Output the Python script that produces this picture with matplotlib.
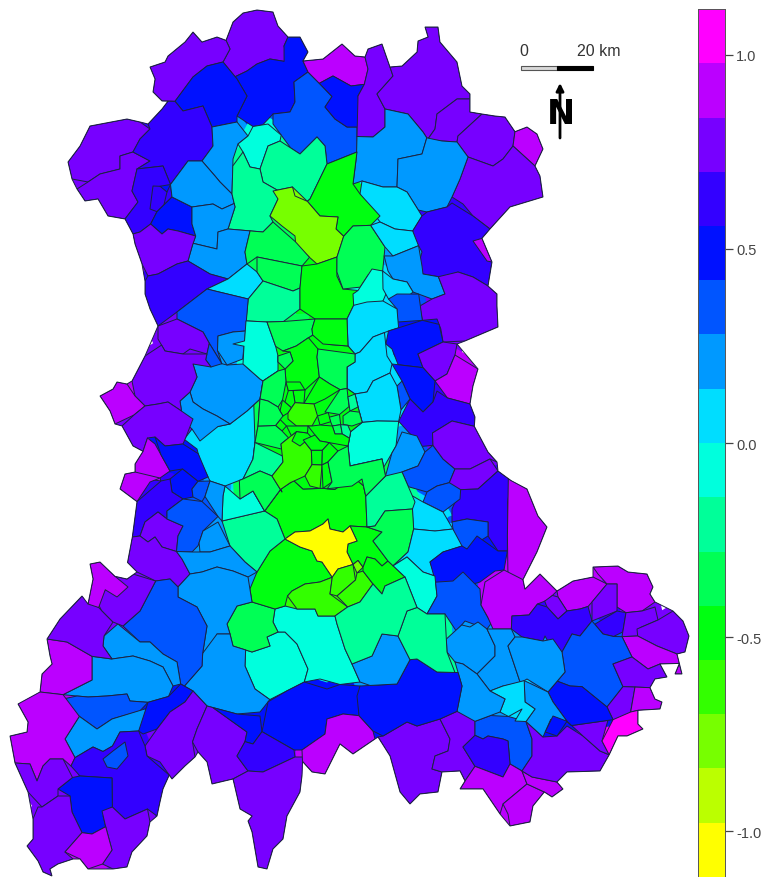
import numpy as np
import matplotlib
matplotlib.use("Agg")
import matplotlib.pyplot as plt
from matplotlib.collections import PolyCollection
from matplotlib.colors import ListedColormap, BoundaryNorm

plt.rcParams['font.family'] = ['Liberation Sans', 'DejaVu Sans']

# classes de la legende
levels = [-1.118, -0.978, -0.838, -0.699, -0.559, -0.419, -0.28, -0.14, 0.0,
          0.14, 0.28, 0.419, 0.559, 0.699, 0.838, 0.978, 1.118]
colours = ['#FFFF00', '#BBFF00', '#77FF00', '#33FF00', '#00FF11', '#00FF55', '#00FF99', '#00FFDD',
           '#00DDFF', '#0099FF', '#0055FF', '#0011FF', '#3300FF', '#7700FF', '#BB00FF', '#FF00FF']
tick_values = [-1.0, -0.5, 0.0, 0.5, 1.0]

# contour exterieur de la region
map_outline = [(257,11),(273,13),(278,27),(288,38),(300,38),(308,53),(303,62),(323,60),(342,45),(355,57),(365,58),(368,50),(382,45),(390,68),(402,67),(417,53),(418,42),(428,38),(425,28),(438,28),(440,43),(457,63),(462,87),(470,95),(470,113),(482,115),(495,117),(505,118),(515,133),(527,128),(537,135),(543,150),(535,167),(540,177),(543,198),(510,208),(490,230),(482,240),(492,263),(488,287),(497,295),(497,307),(498,328),(465,342),(457,345),(478,370),(473,387),(470,405),(475,418),(475,427),(488,453),(497,463),(498,472),(512,480),(527,490),(538,517),(547,528),(537,553),(523,580),(525,590),(540,575),(557,592),(573,582),(593,578),(593,568),(618,567),(628,573),(647,575),(653,588),(650,595),(655,603),(673,612),(683,622),(689,637),(685,653),(677,655),(682,675),(675,675),(677,665),(660,665),(667,678),(655,680),(650,688),(655,700),(662,703),(660,710),(638,712),(638,725),(643,730),(627,737),(618,737),(610,755),(608,757),(600,772),(567,773),(557,783),(563,790),(552,798),(545,793),(533,807),(530,823),(510,827),(500,815),(483,790),(460,790),(465,782),(460,772),(442,773),(438,793),(420,795),(410,805),(400,793),(390,757),(378,738),(375,740),(353,755),(340,745),(325,775),(312,773),(303,763),(302,777),(300,793),(287,817),(283,840),(273,850),(267,870),(258,868),(252,833),(248,822),(252,817),(240,810),(233,780),(212,785),(207,763),(198,753),(195,758),(185,767),(172,780),(168,777),(163,790),(160,803),(157,817),(150,823),(147,837),(132,853),(127,868),(113,870),(88,870),(80,860),(73,860),(58,865),(50,870),(52,877),(43,873),(38,862),(27,847),(33,840),(33,820),(28,793),(15,765),(15,763),(10,737),(27,733),(28,723),(18,705),(40,693),(42,675),(52,665),(50,657),(47,640),(60,620),(82,597),(88,605),(93,580),(90,565),(100,563),(115,577),(127,580),(137,573),(127,562),(132,538),(137,503),(120,490),(125,475),(135,472),(135,465),(143,452),(133,447),(122,427),(115,425),(110,412),(100,397),(113,390),(117,383),(127,385),(132,382),(145,357),(157,327),(150,310),(145,295),(145,282),(142,265),(135,245),(133,235),(125,220),(108,217),(98,200),(85,202),(77,190),(72,180),(68,163),(80,147),(90,127),(127,120),(140,123),(148,125),(162,110),(168,102),(162,102),(153,93),(155,80),(150,68),(165,63),(168,57),(185,43),(193,33),(202,43),(217,38),(226,42),(233,23),(243,14)]

# cantons : (valeur, contour)
north_regions = [
    (0.77, [(226,40),(233,23),(243,14),(257,11),(273,13),(278,27),(288,38),(284,47),(288,63),(270,60),(257,65),(247,72),(235,77),(223,63),(230,50)]),
    (0.77, [(150,68),(165,63),(168,57),(185,43),(193,33),(202,43),(217,38),(226,42),(230,50),(223,63),(207,67),(193,78),(175,102),(162,102),(153,93),(155,80)]),
    (0.49, [(237,77),(247,72),(257,65),(270,60),(284,63),(284,47),(288,38),(300,38),(308,53),(303,62),(308,73),(295,83),(295,103),(290,113),(273,115),(263,128),(253,127),(237,117),(247,97),(237,80)]),
    (0.49, [(175,102),(193,78),(207,67),(223,63),(237,80),(247,97),(237,117),(237,123),(212,128),(203,107),(183,112)]),
    (0.35, [(293,83),(308,73),(320,85),(332,97),(325,108),(335,120),(347,128),(357,128),(357,153),(327,165),(325,147),(317,138),(300,155),(290,150),(273,125),(273,115),(290,113),(295,103)]),
    (0.91, [(303,62),(323,60),(342,45),(355,57),(365,58),(368,70),(363,85),(352,87),(333,77),(320,83),(308,73)]),
    (0.49, [(318,85),(333,77),(350,87),(365,86),(358,97),(362,128),(347,128),(335,120),(325,108),(332,98)]),
    (0.77, [(365,58),(368,50),(382,45),(390,68),(393,77),(377,95),(385,110),(385,128),(373,138),(357,137),(358,97),(365,85),(368,70)]),
    (0.77, [(390,68),(402,67),(417,53),(418,42),(428,38),(425,28),(438,28),(440,43),(457,63),(462,87),(470,95),(468,100),(457,100),(437,115),(435,130),(428,138),(423,133),(408,115),(385,110),(377,95),(393,77)]),
    (0.77, [(437,115),(457,100),(468,100),(470,113),(482,115),(458,137),(457,143),(442,142),(428,138),(435,130)]),
    (0.77, [(458,137),(482,115),(495,117),(505,118),(515,133),(513,147),(503,160),(493,167),(468,157),(457,143)]),
    (0.91, [(515,132),(527,128),(537,135),(543,150),(535,167),(513,147)]),
    (0.77, [(468,157),(493,167),(503,160),(513,147),(535,167),(540,177),(543,198),(510,208),(490,230),(473,217),(463,205),(452,198),(460,180)]),
    (0.21, [(357,138),(373,138),(385,128),(385,110),(408,115),(423,133),(425,140),(422,155),(398,160),(397,188),(383,188),(362,182),(353,185),(357,157)]),
    (0.21, [(425,140),(442,142),(457,143),(468,160),(460,180),(452,198),(447,208),(427,213),(420,210),(407,193),(397,188),(398,160),(422,155)]),
    (0.07, [(362,182),(383,188),(397,188),(407,193),(422,217),(413,233),(395,230),(380,223),(360,195)]),
    (0.63, [(412,230),(422,217),(427,213),(447,208),(452,204),(473,217),(490,230),(482,240),(492,263),(488,287),(473,278),(458,273),(442,277),(423,275),(418,267),(422,253),(418,243)]),
    (0.91, [(473,242),(482,238),(492,263),(487,262)]),
    (0.77, [(68,163),(80,147),(90,127),(127,120),(140,123),(150,130),(140,140),(133,153),(120,157),(120,170),(100,175),(88,183),(72,180)]),
    (0.77, [(77,190),(88,183),(100,175),(120,170),(120,157),(133,153),(150,162),(137,170),(132,192),(138,203),(125,220),(108,217),(98,200),(85,202)]),
    (0.63, [(148,125),(162,110),(168,102),(175,103),(183,112),(203,107),(212,128),(213,147),(202,162),(188,162),(170,185),(163,167),(137,170),(150,162),(133,153),(140,140),(150,130)]),
    (0.63, [(137,170),(163,167),(170,185),(172,198),(157,213),(150,225),(140,233),(133,235),(125,220),(138,203),(132,192)]),
    (0.63, [(153,187),(162,185),(167,193),(165,207),(157,212),(150,210)]),
    (0.49, [(160,188),(172,187),(167,193)]),
    (0.49, [(152,225),(157,213),(165,207),(172,198),(192,208),(192,225),(195,237),(178,232),(168,230),(162,235)]),
    (0.21, [(212,128),(237,123),(248,137),(238,145),(233,160),(232,195),(220,183),(215,177),(202,162),(213,147)]),
    (-0.07, [(238,145),(248,137),(253,128),(268,125),(280,137),(280,142),(268,147),(260,170),(250,168),(243,153)]),
    (0.21, [(170,185),(188,162),(202,162),(215,177),(220,183),(232,195),(232,205),(222,210),(213,205),(192,208),(172,198)]),
    (-0.21, [(260,170),(268,147),(280,142),(300,155),(317,138),(325,147),(327,165),(310,200),(307,202),(293,188),(277,190),(263,183)]),
    (-0.21, [(243,153),(250,168),(260,170),(263,183),(277,190),(278,200),(270,217),(273,223),(263,233),(228,230),(235,208),(232,195),(235,167)]),
    (-0.49, [(327,165),(357,153),(353,185),(360,195),(380,217),(370,227),(353,227),(345,237),(337,230),(338,218),(320,217),(307,202),(310,200)]),
    (-0.77, [(273,192),(292,188),(295,197),(308,203),(320,217),(338,218),(335,230),(343,238),(337,258),(317,265),(297,245),(295,237),(282,227),(270,217),(278,200)]),
    (0.21, [(192,208),(213,205),(222,210),(232,205),(235,208),(228,230),(218,233),(217,250),(195,245),(197,237),(192,225)]),
    (0.21, [(190,257),(195,245),(217,250),(218,233),(228,230),(250,233),(245,253),(247,265),(228,280),(210,275),(188,262)]),
    (0.77, [(133,235),(140,233),(150,225),(162,235),(168,230),(178,232),(195,237),(192,247),(188,262),(177,265),(158,275),(148,277),(142,265),(135,245)]),
    (0.63, [(145,282),(148,277),(158,275),(177,265),(188,262),(210,275),(228,280),(207,290),(177,313),(160,327),(150,310),(145,295)]),
    (0.07, [(207,290),(228,280),(247,265),(257,273),(263,282),(250,300),(247,300),(215,292)]),
    (-0.35, [(245,253),(250,233),(263,233),(273,223),(293,243),(308,260),(302,267),(257,258),(247,265)]),
    (-0.35, [(257,258),(302,267),(300,287),(293,292),(263,282),(257,273)]),
    (-0.21, [(247,300),(250,300),(263,282),(293,292),(300,290),(300,310),(285,322),(267,323),(247,322)]),
    (-0.49, [(302,267),(317,265),(337,258),(337,277),(343,290),(358,293),(353,307),(347,320),(315,320),(300,310),(300,290),(302,280)]),
    (-0.35, [(337,258),(343,237),(353,227),(370,227),(385,248),(382,272),(370,277),(360,288),(343,290),(335,273)]),
    (-0.07, [(358,290),(372,270),(383,272),(388,290),(383,302),(363,308),(355,305),(353,295)]),
    (0.07, [(372,225),(380,223),(395,230),(413,233),(418,247),(393,257),(385,248)]),
    (0.21, [(385,257),(393,257),(418,247),(422,267),(423,275),(438,280),(445,295),(432,300),(413,293),(407,283),(393,280),(388,272)]),
    (0.07, [(383,272),(393,280),(407,283),(413,293),(405,300),(390,300),(383,290)]),
]

east_regions = [
    (0.77, [(438,280),(458,273),(473,278),(488,287),(497,295),(497,307),(498,328),(465,342),(443,343),(440,330),(437,320),(422,322),(420,307),(432,300),(445,295)]),
    (0.35, [(387,300),(397,295),(418,297),(422,322),(398,323),(397,310)]),
    (0.07, [(347,320),(353,307),(367,303),(383,302),(397,310),(398,327),(387,332),(373,338),(360,353),(355,355),(348,347)]),
    (0.49, [(385,345),(390,332),(423,320),(440,325),(443,343),(418,355),(423,368),(398,367),(392,350)]),
    (0.77, [(418,355),(443,343),(457,345),(455,357),(447,375),(435,380),(423,368)]),
    (0.91, [(455,355),(478,370),(473,387),(470,405),(447,398),(435,383),(447,375)]),
    (0.49, [(392,365),(423,370),(435,383),(433,403),(423,413),(410,400),(402,382)]),
    (0.63, [(400,423),(410,400),(423,413),(433,403),(437,392),(448,400),(470,405),(475,418),(475,427),(452,422),(433,433),(433,447),(423,447),(410,437)]),
    (0.35, [(397,387),(402,382),(410,400),(400,412)]),
    (0.07, [(355,363),(355,355),(360,353),(373,338),(385,335),(387,357),(392,365),(390,373),(373,382),(367,393),(355,395),(347,390),(347,368)]),
    (0.07, [(358,408),(355,395),(367,393),(373,382),(390,375),(397,387),(402,410),(398,422),(377,422),(363,425),(362,423),(360,413)]),
    (-0.07, [(350,433),(362,423),(377,422),(398,422),(395,447),(385,468),(382,460),(350,467),(348,447)]),
    (0.21, [(387,477),(390,453),(397,447),(402,433),(417,437),(425,453),(418,467),(402,472),(395,480)]),
    (0.35, [(402,472),(418,467),(425,453),(433,447),(443,460),(455,470),(450,483),(437,487),(427,493),(410,487)]),
    (0.77, [(432,435),(452,422),(473,428),(488,453),(497,463),(490,460),(470,470),(455,470),(443,460),(433,445)]),
    (0.77, [(455,470),(470,470),(490,460),(498,472),(478,490),(460,490),(448,487),(450,483)]),
    (0.63, [(462,492),(478,490),(498,472),(512,480),(507,503),(508,552),(498,552),(488,537),(488,523),(467,520),(452,523),(452,510)]),
    (0.35, [(427,493),(437,487),(448,485),(460,490),(460,500),(443,513),(423,503)]),
    (0.07, [(412,497),(423,503),(443,513),(453,530),(435,532),(415,530),(413,517)]),
    (0.35, [(452,523),(467,520),(488,523),(488,537),(467,550),(455,547)]),
    (-0.21, [(365,497),(385,477),(402,475),(415,503),(412,510),(385,512),(375,527),(367,528)]),
    (-0.35, [(375,527),(385,512),(412,510),(413,530),(408,553),(392,568),(388,562),(373,542),(382,533),(367,528)]),
    (0.07, [(413,530),(435,532),(453,530),(462,547),(443,553),(430,563),(435,577),(423,573),(407,558),(392,568),(408,553)]),
    (0.49, [(430,563),(443,553),(462,547),(467,550),(477,537),(498,552),(507,552),(503,570),(495,572),(480,583),(457,590),(437,583)]),
    (-0.07, [(392,568),(407,558),(423,573),(435,577),(437,597),(427,615),(417,610),(417,608),(405,578)]),
    (0.35, [(437,583),(453,582),(463,573),(480,590),(482,607),(490,625),(487,630),(465,622),(457,633),(445,615),(427,615),(437,597)]),
    (0.91, [(508,480),(527,490),(538,517),(547,528),(537,553),(523,580),(508,580),(507,537)]),
    (0.91, [(480,605),(485,583),(505,572),(523,582),(525,590),(540,575),(557,592),(547,600),(537,605),(528,617),(512,617),(510,630),(493,628),(488,618)]),
    (0.91, [(557,592),(573,582),(593,578),(607,585),(592,603),(588,607),(580,610),(567,612),(558,598)]),
    (0.77, [(545,603),(553,597),(558,598),(567,612),(558,620),(547,608)]),
    (0.63, [(512,617),(530,615),(538,605),(547,608),(558,620),(567,612),(580,610),(588,608),(592,620),(580,637),(572,635),(562,653),(547,640),(545,637),(543,642),(522,638),(512,630)]),
    (0.91, [(593,568),(618,567),(628,573),(647,575),(653,588),(650,595),(655,603),(642,612),(627,613),(617,608),(617,585),(607,585),(598,575)]),
    (0.77, [(592,603),(607,585),(617,585),(617,612),(592,623)]),
    (0.63, [(595,625),(617,612),(626,613),(623,633),(615,638),(603,635)]),
    (0.77, [(620,637),(625,615),(642,612),(655,608),(658,622),(640,628),(637,637)]),
    (0.77, [(637,630),(658,620),(673,612),(683,622),(689,637),(685,653),(677,655),(657,647),(638,637)]),
    (0.91, [(623,638),(638,637),(657,647),(677,655),(682,675),(675,675),(677,665),(660,665),(648,670),(632,658)]),
    (0.35, [(562,653),(572,635),(580,637),(592,623),(603,635),(612,637),(623,638),(632,658),(613,665),(623,687),(607,708),(583,688),(580,687),(570,687),(557,682),(565,673)]),
    (0.77, [(613,665),(632,658),(648,670),(660,665),(665,675),(667,678),(655,680),(650,690),(630,688),(623,688)]),
    (0.77, [(607,708),(623,688),(635,688),(630,713),(622,722),(613,720)]),
    (0.91, [(635,688),(650,688),(655,700),(662,703),(660,710),(638,710),(632,713)]),
    (1.05, [(602,742),(613,722),(630,713),(638,712),(638,725),(643,730),(627,737),(618,737),(610,755)]),
    (0.49, [(548,693),(557,682),(570,687),(583,688),(607,708),(613,720),(573,725),(567,722),(553,703)]),
    (0.21, [(447,640),(463,627),(470,628),(478,623),(487,630),(495,647),(495,657),(477,675),(463,665),(455,663),(447,653)]),
    (0.21, [(487,630),(512,630),(515,638),(508,647),(520,682),(503,687),(490,692),(477,675),(495,657),(495,647)]),
    (0.21, [(508,647),(515,638),(522,638),(543,642),(553,640),(562,653),(565,673),(548,693),(527,680),(520,682)]),
    (0.21, [(525,683),(548,693),(553,703),(567,722),(550,720),(543,738),(525,722),(535,710),(525,703)]),
    (0.07, [(490,692),(503,687),(525,683),(525,703),(535,710),(525,722),(515,722),(522,710),(507,717),(500,713),(505,700)]),
    (0.49, [(543,732),(553,717),(567,722),(557,737)]),
    (0.21, [(455,663),(463,665),(477,675),(490,692),(505,700),(500,713),(475,722),(457,712),(462,687)]),
    (0.49, [(357,697),(360,687),(397,685),(410,662),(417,660),(437,673),(460,673),(462,687),(457,712),(440,720),(417,727),(407,723),(383,737),(373,732),(360,717)]),
    (0.21, [(352,665),(372,657),(382,635),(398,637),(410,660),(397,685),(370,687),(360,683)]),
    (-0.21, [(398,637),(407,612),(417,608),(427,615),(445,615),(447,653),(455,672),(437,673),(417,660),(410,660)]),
    (-0.21, [(335,617),(348,608),(360,603),(373,585),(382,595),(385,587),(405,578),(417,608),(407,612),(398,637),(382,635),(372,657),(352,665),(345,650),(337,625)]),
]

south_regions = [
    (-0.07, [(245,653),(252,653),(270,647),(267,638),(278,633),(285,633),(297,645),(308,670),(305,683),(270,698),(255,690),(245,667)]),
    (-0.07, [(273,623),(275,610),(285,607),(297,610),(315,610),(318,617),(335,617),(337,625),(345,650),(352,665),(360,683),(340,686),(320,680),(305,683),(308,670),(297,645),(285,633),(278,633)]),
    (-0.35, [(227,625),(237,607),(252,603),(275,610),(273,623),(278,633),(267,638),(270,647),(252,653),(233,647),(230,635)]),
    (-0.49, [(265,512),(280,490),(283,487),(293,480),(303,490),(323,490),(335,492),(353,478),(362,487),(365,497),(367,528),(350,527),(343,533),(330,530),(328,520),(323,525),(310,532),(295,533),(285,540),(277,520)]),
    (-0.49, [(270,552),(285,540),(300,548),(312,552),(317,562),(322,563),(332,578),(320,583),(305,585),(292,592),(287,597),(285,607),(275,610),(252,603),(250,590),(257,573)]),
    (-0.49, [(350,527),(367,528),(382,533),(373,542),(388,562),(382,567),(375,560),(367,558),(363,568),(358,562),(353,565),(347,553),(348,545),(357,542)]),
    (-1.05, [(285,540),(295,533),(310,532),(323,525),(328,520),(330,530),(343,533),(350,527),(357,542),(348,545),(347,553),(353,565),(338,570),(332,577),(322,563),(317,562),(312,552),(300,548)]),
    (-0.63, [(288,597),(292,592),(305,585),(320,583),(332,578),(330,595),(347,608),(335,617),(318,617),(315,610),(297,610)]),
    (-0.77, [(353,565),(358,561),(363,569),(357,573)]),
    (-0.63, [(330,595),(333,580),(338,570),(353,567),(356,580),(347,587),(337,597)]),
    (-0.63, [(337,597),(355,582),(357,575),(363,572),(373,585),(360,603),(348,608)]),
    (-0.49, [(363,568),(367,558),(375,560),(382,567),(388,562),(405,578),(385,587),(382,595),(373,585),(363,572)]),
    (-0.21, [(222,522),(263,512),(277,520),(285,540),(270,552),(257,573),(245,563),(230,547)]),
    (-0.07, [(222,522),(223,497),(225,487),(240,500),(253,492),(265,512),(240,517)]),
    (0.07, [(183,440),(192,430),(197,432),(218,427),(230,425),(247,412),(260,400),(255,407),(255,443),(253,460),(243,480),(225,487),(210,482),(202,460),(197,450)]),
    (0.21, [(190,393),(197,378),(193,365),(207,362),(227,367),(243,365),(260,380),(263,382),(260,400),(247,412),(230,425),(217,417),(203,410),(193,403)]),
    (0.21, [(180,402),(190,393),(193,403),(203,410),(217,417),(230,425),(218,428),(200,442),(192,430),(183,422)]),
]

west_regions = [
    (0.35, [(177,313),(207,290),(215,292),(247,300),(245,332),(233,333),(218,337),(217,350),(222,363),(210,345),(203,333),(177,320)]),
    (0.77, [(157,327),(177,320),(203,333),(208,345),(207,355),(190,350),(183,355),(165,352),(158,340)]),
    (0.35, [(205,360),(210,343),(222,365),(212,368)]),
    (0.21, [(233,333),(245,332),(243,360),(227,365),(218,353),(218,337)]),
    (-0.07, [(233,345),(245,342),(247,322),(267,323),(275,347),(283,352),(278,357),(278,363),(285,370),(278,372),(263,382),(260,380),(243,365),(242,347)]),
    (0.77, [(132,382),(145,357),(160,347),(165,352),(183,355),(207,355),(205,360),(210,368),(193,365),(197,378),(190,393),(180,402),(182,412),(168,403),(158,405),(145,407),(135,397)]),
    (0.91, [(100,397),(113,390),(117,383),(127,385),(135,397),(145,407),(133,417),(115,425),(110,412)]),
    (0.77, [(122,427),(135,415),(145,407),(158,405),(168,403),(182,412),(193,420),(185,437),(183,445),(165,447),(155,438),(148,440),(143,453),(133,447)]),
    (0.91, [(135,465),(143,452),(147,438),(155,445),(170,472),(160,478),(162,482),(148,480),(135,472)]),
    (0.91, [(120,490),(125,475),(135,475),(160,480),(150,483),(137,503),(130,500)]),
    (0.49, [(155,438),(165,447),(183,445),(197,455),(208,478),(198,482),(183,470),(170,472),(162,455)]),
    (0.49, [(170,480),(182,470),(198,482),(192,490),(193,498),(185,500),(172,493)]),
    (0.35, [(192,490),(198,483),(210,482),(205,497),(202,503),(193,498)]),
    (0.21, [(207,492),(210,482),(225,487),(223,497),(222,522),(218,517),(205,498)]),
    (0.63, [(137,502),(160,482),(170,480),(172,493),(182,500),(167,512),(167,520),(158,513),(145,523),(140,537),(133,538)]),
    (0.77, [(140,537),(145,523),(158,513),(167,520),(183,527),(178,537),(175,552),(162,548),(155,538),(148,543)]),
    (0.35, [(167,512),(182,500),(202,502),(218,518),(203,532),(197,547),(192,553),(178,553),(175,552),(178,537),(183,527),(167,520)]),
    (0.21, [(197,543),(203,532),(218,523),(230,547),(210,553),(200,553)]),
    (0.77, [(132,538),(140,537),(148,543),(155,538),(162,548),(175,552),(178,553),(182,560),(190,575),(178,588),(170,580),(155,582),(137,573),(128,565)]),
    (0.21, [(182,560),(178,553),(192,553),(200,553),(210,553),(230,547),(245,563),(257,573),(248,578),(233,572),(217,568),(202,573),(190,575)]),
    (0.21, [(190,575),(202,573),(217,568),(233,572),(248,578),(252,603),(237,607),(227,625),(230,635),(217,635),(210,653),(203,655),(207,627),(197,608),(178,598),(178,588)]),
    (0.21, [(203,655),(217,635),(230,635),(233,647),(245,653),(245,667),(255,690),(268,700),(260,713),(237,715),(207,707),(193,692),(185,687),(202,667)]),
    (0.35, [(123,627),(140,612),(157,582),(170,580),(178,588),(178,598),(197,608),(207,627),(202,653),(202,667),(185,685),(180,685),(177,663),(163,655),(150,643),(140,643)]),
    (0.21, [(103,647),(105,637),(117,627),(140,643),(150,643),(163,655),(177,663),(180,685),(173,687),(163,668),(150,662),(133,657),(112,660)]),
    (0.21, [(63,697),(92,680),(90,657),(112,660),(133,657),(150,662),(163,668),(173,687),(167,698),(148,702),(130,702),(127,695),(107,697),(88,698),(77,697)]),
    (0.35, [(65,700),(77,697),(88,698),(107,697),(127,695),(130,702),(148,703),(140,713),(112,720),(97,730),(80,717),(70,713)]),
    (0.21, [(65,740),(80,718),(97,730),(112,720),(147,710),(147,723),(138,732),(120,733),(112,747),(103,752),(93,748),(75,758)]),
    (0.91, [(47,640),(67,643),(93,658),(92,682),(63,695),(53,695),(40,693),(42,675),(52,665),(50,657)]),
    (0.91, [(18,705),(30,695),(40,693),(63,695),(78,717),(75,727),(65,740),(75,758),(72,767),(63,760),(50,760),(43,767),(37,782),(30,765),(15,763),(10,737),(27,733),(28,723)]),
    (0.77, [(47,640),(60,620),(82,597),(97,610),(113,623),(103,637),(103,647),(112,660),(93,657),(67,643)]),
    (0.77, [(97,603),(100,598),(115,578),(127,580),(135,577),(155,582),(140,612),(123,627),(113,623),(100,613)]),
    (0.91, [(88,605),(93,580),(90,565),(100,563),(115,577),(128,588),(117,598),(107,592),(97,608)]),
    (0.49, [(140,732),(148,705),(170,697),(182,685),(193,692),(185,703),(170,713),(157,730),(143,735)]),
    (0.77, [(145,747),(157,730),(170,713),(185,703),(193,692),(207,707),(197,730),(193,743),(195,758),(185,767),(172,780),(160,763),(147,757)]),
    (0.77, [(192,743),(197,730),(207,707),(213,708),(233,723),(247,733),(245,743),(237,757),(248,773),(233,780),(212,785),(207,763),(198,753)]),
    (0.49, [(213,708),(237,715),(260,717),(262,733),(253,745),(245,742),(247,733),(233,723)]),
    (0.49, [(262,732),(267,702),(287,692),(303,683),(327,690),(340,685),(360,687),(360,716),(343,715),(327,720),(325,735),(302,750),(295,752)]),
    (0.63, [(237,757),(245,743),(253,745),(262,733),(293,750),(295,758),(263,773),(248,770)]),
    (0.77, [(233,780),(248,773),(263,773),(295,758),(308,758),(302,777),(300,793),(287,817),(283,840),(273,850),(267,870),(258,868),(252,833),(248,822),(252,817),(240,810)]),
    (0.91, [(302,752),(325,735),(327,720),(343,715),(357,717),(373,732),(375,740),(353,755),(340,745),(325,775),(312,773),(302,762)]),
    (0.63, [(75,760),(93,748),(103,753),(113,747),(120,733),(138,732),(145,747),(147,757),(168,777),(163,790),(160,803),(157,817),(147,810),(125,820),(113,808),(112,780),(93,777),(80,777),(70,767)]),
    (0.35, [(103,760),(113,752),(125,743),(128,757),(117,770),(107,768)]),
    (0.49, [(58,790),(72,780),(80,777),(112,778),(113,793),(112,808),(103,817),(105,827),(92,835),(82,833),(72,813),(70,797)]),
    (0.77, [(15,765),(30,765),(37,782),(43,767),(50,760),(63,760),(73,777),(58,790),(58,797),(42,808),(28,793)]),
    (0.77, [(42,808),(58,797),(70,797),(72,813),(82,833),(65,853),(73,860),(58,865),(50,870),(52,877),(43,873),(38,862),(27,847),(33,840),(33,820),(38,808)]),
    (0.77, [(102,812),(112,808),(125,820),(148,810),(150,823),(147,837),(132,853),(127,868),(113,870),(102,865),(112,850),(107,828)]),
    (0.91, [(65,853),(82,835),(92,835),(105,828),(112,843),(112,852),(103,865),(88,870),(80,860)]),
    (0.77, [(378,738),(383,737),(407,723),(417,727),(440,720),(450,740),(448,752),(435,757),(432,770),(442,773),(438,793),(420,795),(410,805),(400,793),(390,757)]),
    (0.77, [(440,720),(457,713),(472,717),(475,722),(475,737),(463,748),(475,767),(465,782),(460,772),(442,773),(432,770),(435,757),(448,752),(450,740)]),
    (0.35, [(475,723),(490,715),(510,718),(527,723),(532,740),(532,757),(522,772),(510,765),(508,742),(503,740),(488,737),(483,740),(475,737)]),
    (0.63, [(463,748),(475,735),(483,740),(488,737),(503,740),(508,742),(510,765),(503,778),(487,772),(475,767)]),
    (0.91, [(460,790),(465,782),(475,768),(503,778),(510,765),(522,772),(527,785),(503,805),(500,815),(483,790)]),
    (0.91, [(503,805),(527,785),(543,793),(533,807),(530,823),(510,827),(508,815)]),
    (0.91, [(522,772),(532,778),(557,783),(563,790),(552,798),(545,793),(527,785)]),
    (0.77, [(527,723),(543,738),(557,737),(567,727),(583,737),(600,752),(608,757),(600,772),(567,773),(557,783),(532,778),(522,772),(532,757),(532,740)]),
    (0.77, [(567,723),(573,725),(608,722),(602,742),(610,755),(600,752),(583,737)]),
]

centre_regions = [
    (-0.49, [(277,348),(293,348),(303,340),(312,338),(330,347),(348,347),(355,355),(347,368),(347,390),(355,395),(358,408),(362,423),(350,433),(348,447),(350,467),(382,460),(385,468),(385,477),(365,497),(362,487),(353,478),(335,492),(323,490),(303,490),(293,480),(283,487),(280,490),(265,512),(253,492),(253,460),(255,443),(258,427),(260,400),(263,382),(278,372),(278,357)]),
    (-0.35, [(282,323),(315,320),(312,330),(313,335),(308,338),(297,348),(283,352),(275,347),(267,323)]),
    (-0.49, [(312,330),(315,320),(347,320),(348,347),(323,345),(313,335)]),
    (-0.49, [(283,352),(297,348),(308,338),(318,350),(317,358),(320,378),(305,390),(288,390),(285,383),(285,370),(293,362),(290,353)]),
    (-0.35, [(278,357),(290,353),(293,362),(285,370),(278,363)]),
    (-0.35, [(318,350),(355,355),(355,363),(347,368),(347,388),(340,390),(330,385),(320,378),(317,358)]),
    (-0.35, [(260,400),(263,382),(278,372),(285,370),(285,383),(282,400),(278,408),(268,402)]),
    (-0.49, [(305,403),(318,378),(330,385),(340,390),(325,400),(315,405)]),
    (-0.49, [(288,383),(300,383),(305,390),(290,392)]),
    (-0.49, [(293,393),(305,393),(303,403),(295,403)]),
    (-0.49, [(287,393),(293,393),(295,403),(290,408),(285,403)]),
    (-0.49, [(280,412),(283,402),(289,407),(288,415),(283,417)]),
    (-0.63, [(288,413),(295,405),(313,405),(317,417),(312,427),(295,427),(288,420)]),
    (-0.35, [(325,413),(340,392),(347,390),(347,408),(340,415)]),
    (-0.21, [(347,398),(355,395),(358,408),(350,412)]),
    (-0.35, [(343,417),(350,412),(360,413),(362,423),(352,427),(343,423)]),
    (-0.35, [(330,418),(339,416),(340,425),(332,427)]),
    (-0.49, [(318,417),(328,415),(330,423),(320,426)]),
    (-0.35, [(333,427),(340,425),(342,435),(335,435)]),
    (-0.21, [(342,427),(348,425),(352,432),(348,438),(343,435)]),
    (-0.49, [(276,425),(282,422),(286,427),(282,432)]),
    (-0.35, [(258,427),(275,428),(282,432),(287,437),(280,445),(282,450),(255,443)]),
    (-0.35, [(260,400),(268,402),(278,408),(280,412),(283,417),(276,425),(275,428),(258,427)]),
    (-0.21, [(253,460),(255,445),(282,457),(283,463),(272,477),(260,472),(243,480)]),
    (-0.35, [(240,483),(243,480),(260,472),(272,477),(282,493),(280,490),(265,512),(253,492),(240,500)]),
    (-0.63, [(272,477),(283,463),(282,445),(295,433),(312,452),(312,465),(305,477),(290,483),(282,492)]),
    (-0.49, [(295,433),(298,432),(308,433),(312,440),(300,447),(292,442)]),
    (-0.49, [(287,427),(298,427),(308,428),(307,435),(298,432),(290,435)]),
    (-0.49, [(308,427),(312,427),(320,426),(332,427),(335,435),(342,435),(348,440),(348,447),(330,443),(320,442),(315,435)]),
    (-0.49, [(302,442),(315,437),(320,442),(330,443),(323,450),(310,450)]),
    (-0.49, [(312,452),(322,452),(322,465),(312,465)]),
    (-0.63, [(305,477),(312,467),(322,467),(320,487),(310,487)]),
    (-0.49, [(322,452),(328,445),(338,452),(328,463),(322,465)]),
    (-0.49, [(322,467),(328,463),(332,483),(323,488)]),
    (-0.35, [(328,463),(338,452),(348,447),(350,467),(382,460),(385,477),(368,497),(362,480),(352,487),(327,492),(332,483)]),
]

scale_labels = ['0', '20 km']


def snap_vertices(polys, radius=3.5, edge_radius=2.5):
    # colle les sommets voisins pour que les cantons se touchent
    pts = np.concatenate(polys)
    ids = -np.ones(len(pts), dtype=int)
    uniq = []
    for i, p in enumerate(pts):
        if ids[i] < 0:
            near = (ids < 0) & (np.hypot(*(pts - p).T) < radius)
            ids[near] = len(uniq)
            uniq.append(pts[near].mean(axis=0))
    uniq = np.array(uniq)
    # aretes en indices de sommets uniques
    sizes = np.cumsum([0] + [len(p) for p in polys])
    id_polys = [ids[sizes[k]:sizes[k + 1]] for k in range(len(polys))]
    edges = np.array(sorted({tuple(sorted(e)) for q in id_polys for e in zip(q, np.roll(q, -1)) if e[0] != e[1]}))
    for i in range(len(uniq)):
        a, b = uniq[edges[:, 0]], uniq[edges[:, 1]]
        d = b - a
        t = np.clip(((uniq[i] - a) * d).sum(axis=1) / (d * d).sum(axis=1).clip(1e-9), 0, 1)
        proj = a + t[:, None] * d
        dist = np.hypot(*(proj - uniq[i]).T)
        dist[(edges == i).any(axis=1)] = 99
        k = dist.argmin()
        if 0.01 < dist[k] < edge_radius:
            uniq[i] = proj[k]
    return [uniq[q] for q in id_polys]


all_regions = north_regions + south_regions + west_regions + east_regions + centre_regions
values = np.array([r[0] for r in all_regions])
polys = [np.array(r[1], dtype=float) for r in all_regions] + [np.array(map_outline, dtype=float)]
polys = snap_vertices(polys)
outlines, border = polys[:-1], polys[-1]

cmap = ListedColormap(colours)
norm = BoundaryNorm(levels, cmap.N)

fig = plt.figure(figsize=(7.67, 8.78), dpi=100)
ax = fig.add_axes([0, 0, 1, 1])
ax.set_xlim(0, 767)
ax.set_ylim(878, 0)
ax.axis('off')

# silhouette : les cantons sont coupes dessus
shape = plt.Polygon(border, closed=True, facecolor='none', edgecolor='#1c2340', lw=0.7, zorder=5)
ax.add_patch(shape)

# sous-couche pour boucher les petits trous entre cantons
under = PolyCollection(outlines, array=values, cmap=cmap, norm=norm, edgecolors='face', linewidths=9)
ax.add_collection(under)
under.set_clip_path(shape)
poly = PolyCollection(outlines, array=values, cmap=cmap, norm=norm, edgecolors='#1c2340', linewidths=0.7)
ax.add_collection(poly)
poly.set_clip_path(shape)

# barre d'echelle
ax.add_patch(plt.Rectangle((521, 66.5), 36, 4, facecolor='#d8d8d8', edgecolor='#555555', lw=0.8))
ax.add_patch(plt.Rectangle((557, 66.5), 36, 4, facecolor='black', edgecolor='black', lw=0.8))
ax.text(524, 51, scale_labels[0], ha='center', va='center', fontsize=11.5, color='#333333')
ax.text(599, 51, scale_labels[1], ha='center', va='center', fontsize=11.5, color='#333333')

# fleche du nord
ax.text(560.5, 114, 'N', ha='center', va='center', fontsize=24, fontweight='bold', color='black', family='DejaVu Sans')
ax.annotate('', xy=(560, 84), xytext=(560, 139),
            arrowprops=dict(arrowstyle='-|>', color='black', lw=2, mutation_scale=11, shrinkA=0, shrinkB=0))

# legende
cax = fig.add_axes([698 / 767, 0, 27 / 767, 868 / 878])
cax.pcolormesh([0, 1], levels, np.array(levels[:-1]).reshape(-1, 1) + 0.01, cmap=cmap, norm=norm)
cax.set_xticks([])
cax.set_ylim(levels[0], levels[-1])
cax.yaxis.tick_right()
cax.set_yticks(tick_values)
cax.set_yticklabels(['%.1f' % v for v in tick_values], fontsize=10.5, color='#444444')
cax.tick_params(axis='y', length=5.5, width=0.9, color='#444444', pad=2.5)
for s in cax.spines.values():
    s.set_linewidth(0.7)
    s.set_color('#555555')

fig.savefig('out.png', dpi=100)
